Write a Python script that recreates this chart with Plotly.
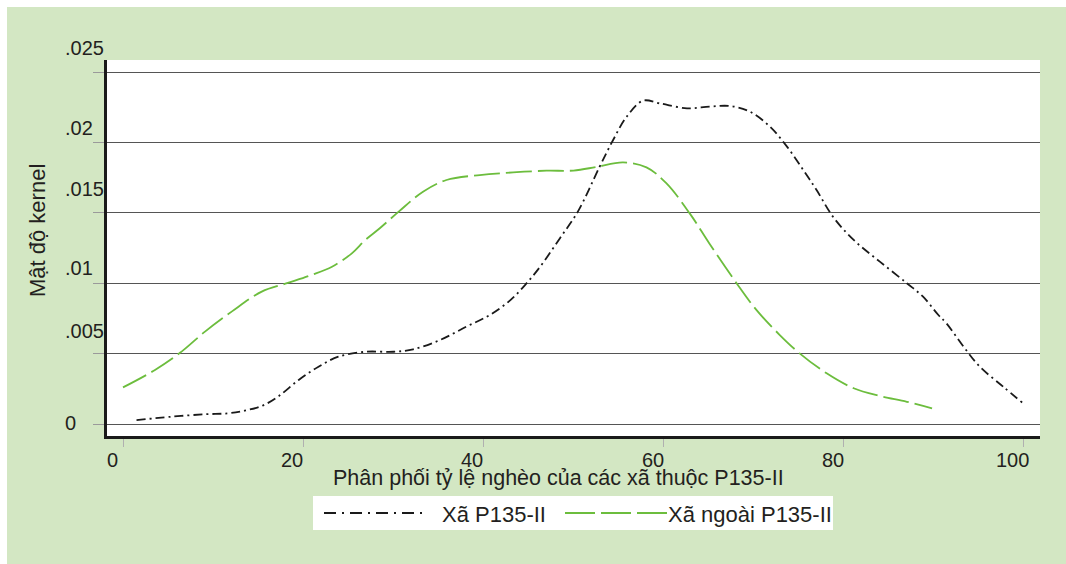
import plotly.graph_objects as go

# ---- data ----
SERIES_NAMES = ["Xã P135-II", "Xã ngoài P135-II"]

p135_x = [1.5, 5.4, 9.1, 11.7, 13.5, 15.4, 17.2, 19.5, 21.7, 23.9, 26.9, 30.0, 32.2, 35.2, 38.1,
          40.7, 43.0, 44.8, 46.3, 48.5, 50.5, 52.9, 54.4, 55.9, 57.7, 59.6, 62.6, 65.1, 67.4,
          69.6, 71.8, 73.7, 75.5, 77.0, 78.8, 81.1, 84.0, 87.0, 88.8, 90.5, 91.4, 93.3, 95.1,
          97.7, 99.9]
p135_y = [0.00028, 0.00052, 0.00069, 0.00076, 0.00095, 0.00128, 0.00194, 0.00313, 0.00407,
          0.00478, 0.00513, 0.00513, 0.0053, 0.00597, 0.00691, 0.00774, 0.0088, 0.0100, 0.01117,
          0.0132, 0.0151, 0.01827, 0.02017, 0.02182, 0.02296, 0.02277, 0.02242, 0.02254, 0.02258,
          0.02218, 0.02112, 0.0197, 0.01804, 0.0166, 0.01472, 0.01307, 0.01153, 0.0100, 0.00904,
          0.00774, 0.00715, 0.00549, 0.00407, 0.00265, 0.00147]

ngoai_x = [0.0, 3.55, 6.5, 9.1, 12.1, 15.4, 18.2, 20.9, 23.2, 25.4, 26.9, 28.5, 30.6, 33.3, 35.9,
           39.6, 43.3, 47.0, 50.0, 52.5, 55.5, 58.1, 60.3, 62.9, 65.1, 68.1, 70.3, 72.9, 75.1,
           78.1, 81.1, 84.0, 87.0, 89.8]
ngoai_y = [0.0026, 0.00384, 0.00514, 0.00656, 0.0080, 0.0094, 0.0100, 0.01058, 0.01117, 0.01212,
           0.01307, 0.0139, 0.01508, 0.0165, 0.01733, 0.01768, 0.01787, 0.01799, 0.0180, 0.01825,
           0.01858, 0.01823, 0.0171, 0.01496, 0.0128, 0.0100, 0.0081, 0.00632, 0.00502, 0.0036,
           0.00254, 0.00199, 0.00158, 0.00111]

X_TICKS = [0, 20, 40, 60, 80, 100]
X_TICK_TEXT = ["0", "20", "40", "60", "80", "100"]
Y_TICKS = [0, 0.005, 0.01, 0.015, 0.02, 0.025]
Y_TICK_TEXT = ["0", ".005", ".01", ".015", ".02", ".025"]

X_TITLE = "Phân phối tỷ lệ nghèo của các xã thuộc P135-II"
Y_TITLE = "Mật độ kernel"

# ---- style ----
W, H = 1066, 564
L, R, T, B = 107, 26, 60, 128
PW, PH = W - L - R, H - T - B
GREEN_BG = "#d3e7c3"
LINE_GREEN = "#6cbd3d"
LINE_BLACK = "#1a1a1a"
TXT = "#231f20"
FONT = "Liberation Sans, Arial, sans-serif"
FS_TICK = 20
FS_TITLE = 21.5
FS_LEG = 22
Y_LABEL_SHIFT = [1, 23, 15, 24, 14, 24]   # px, matches offsets of the reference
EDGE = 7                                   # white edge left/top of the green panel


def px_x(p):
    return (p - L) / PW


def px_y(p):
    return (H - B - p) / PH


fig = go.Figure()
fig.add_trace(go.Scatter(x=p135_x, y=p135_y, mode="lines", name=SERIES_NAMES[0],
                         line=dict(color=LINE_BLACK, width=1.8, dash="9px,4px,2px,4px", shape="spline"),
                         showlegend=False, hoverinfo="skip"))
fig.add_trace(go.Scatter(x=ngoai_x, y=ngoai_y, mode="lines", name=SERIES_NAMES[1],
                         line=dict(color=LINE_GREEN, width=1.8, dash="26px,6px", shape="spline"),
                         showlegend=False, hoverinfo="skip"))

shapes = [
    dict(type="rect", xref="paper", yref="paper", x0=px_x(-20), x1=px_x(EDGE), y0=px_y(600), y1=px_y(-20),
         fillcolor="white", line=dict(width=0), layer="below"),
    dict(type="rect", xref="paper", yref="paper", x0=px_x(-20), x1=px_x(1100), y0=px_y(EDGE), y1=px_y(-20),
         fillcolor="white", line=dict(width=0), layer="below"),
    # legend box
    dict(type="rect", xref="paper", yref="paper", x0=px_x(313), x1=px_x(833), y0=px_y(530), y1=px_y(496),
         fillcolor="white", line=dict(width=0)),
    dict(type="line", xref="paper", yref="paper", x0=px_x(324), x1=px_x(426), y0=px_y(513), y1=px_y(513),
         line=dict(color=LINE_BLACK, width=1.8, dash="12px,6px,2px,6px")),
    dict(type="line", xref="paper", yref="paper", x0=px_x(565), x1=px_x(667), y0=px_y(513), y1=px_y(513),
         line=dict(color=LINE_GREEN, width=1.8, dash="30px,6px")),
]

annotations = []
for v, t, s in zip(Y_TICKS, Y_TICK_TEXT, Y_LABEL_SHIFT):
    annotations.append(dict(x=px_x(63), xref="paper", y=v, yref="y", text=t, showarrow=False,
                            xanchor="left", yanchor="middle", yshift=s,
                            font=dict(family=FONT, size=FS_TICK, color=TXT)))
for v, t in zip(X_TICKS, X_TICK_TEXT):
    annotations.append(dict(x=v, xref="x", y=px_y(460), yref="paper", text=t, showarrow=False,
                            xanchor="center", yanchor="middle", xshift=-11,
                            font=dict(family=FONT, size=FS_TICK, color=TXT)))
annotations.append(dict(x=px_x(558), xref="paper", y=px_y(478), yref="paper", text=X_TITLE,
                        showarrow=False, xanchor="center", yanchor="middle",
                        font=dict(family=FONT, size=FS_TITLE, color=TXT)))
annotations.append(dict(x=px_x(37), xref="paper", y=px_y(231), yref="paper", text=Y_TITLE,
                        showarrow=False, xanchor="center", yanchor="middle", textangle=-90,
                        font=dict(family=FONT, size=FS_LEG, color=TXT)))
annotations.append(dict(x=px_x(440), xref="paper", y=px_y(514), yref="paper", text=SERIES_NAMES[0],
                        showarrow=False, xanchor="left", yanchor="middle",
                        font=dict(family=FONT, size=FS_LEG, color=TXT)))
annotations.append(dict(x=px_x(666), xref="paper", y=px_y(514), yref="paper", text=SERIES_NAMES[1],
                        showarrow=False, xanchor="left", yanchor="middle",
                        font=dict(family=FONT, size=FS_LEG, color=TXT)))

fig.update_layout(
    width=W, height=H,
    margin=dict(l=L, r=R, t=T, b=B, pad=0),
    paper_bgcolor=GREEN_BG, plot_bgcolor="white",
    font=dict(family=FONT, size=FS_TICK, color=TXT),
    shapes=shapes, annotations=annotations,
    xaxis=dict(range=[-1.776, 101.78], tickvals=X_TICKS, showticklabels=False,
               ticks="outside", ticklen=8, tickcolor="#b0b0b0", tickwidth=1,
               showgrid=False, zeroline=False, showline=True, linecolor="#1a1a1a", linewidth=2.5,
               fixedrange=True),
    yaxis=dict(range=[-0.000852, 0.025852], tickvals=Y_TICKS, showticklabels=False,
               ticks="outside", ticklen=11, tickcolor="#9a9a9a", tickwidth=1,
               showgrid=True, gridcolor="#555555", gridwidth=1.2,
               zeroline=True, zerolinecolor="#555555", zerolinewidth=1.2,
               showline=True, linecolor="#1a1a1a", linewidth=2.5, fixedrange=True),
)

PAGE_JS = ("document.body.style.margin='0';"
           "document.body.style.overflow='hidden';"
           "document.documentElement.style.overflow='hidden';")

fig.write_html("out.html", post_script=PAGE_JS, config={"displayModeBar": False})
